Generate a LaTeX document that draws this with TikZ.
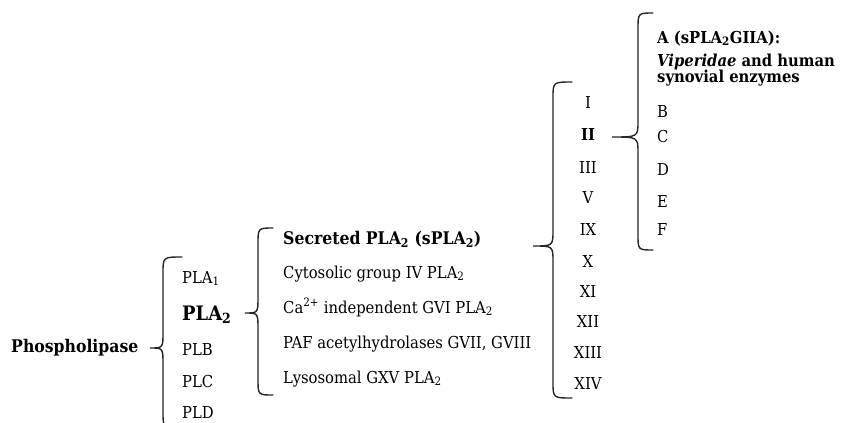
\documentclass[tikz,border=0pt]{standalone}
\usepackage{fontspec}
\setmainfont{DejaVu Serif Condensed}
\tikzset{
  lbl/.style={inner sep=0pt, anchor=base west, font=\fontsize{16.5}{19}\selectfont},
  blbl/.style={inner sep=0pt, anchor=base west, font=\fontsize{16.5}{19}\selectfont\bfseries},
  num/.style={inner sep=0pt, anchor=base, font=\fontsize{16.5}{19}\selectfont},
  bnum/.style={inner sep=0pt, anchor=base, font=\fontsize{16.5}{19}\selectfont\bfseries},
  brc/.style={line width=1.4bp, line cap=round, draw=black!85},
}
% xe xs xt yt ym yb
\newcommand{\drawbrace}[6]{%
  \draw[brc] (#1,#4) .. controls (#2,#4) .. (#2,#4+16) -- (#2,#5-16)
    .. controls (#2,#5) .. (#3,#5) .. controls (#2,#5) .. (#2,#5+16)
    -- (#2,#6-16) .. controls (#2,#6) .. (#1,#6);}
\begin{document}
\begin{tikzpicture}[x=1bp,y=-1bp]
\useasboundingbox (0,0) rectangle (848,422);
\clip (0,0) rectangle (848,422);
\fill[white] (0,0) rectangle (848,422);
% column 0
\node[inner sep=0pt, anchor=base west, font=\fontsize{17.5}{20}\selectfont\bfseries] (phos) at (11,352) {Phospholipase};
% brace 1
\drawbrace{182}{163}{150}{257}{348}{428}
\node[lbl] (pla1) at (182,283) {PLA\textsubscript{1}};
\node[inner sep=0pt, anchor=base west, font=\fontsize{20}{23}\selectfont\bfseries] (pla2) at (182,320) {PLA\textsubscript{2}};
\node[lbl] (plb) at (182,355) {PLB};
\node[lbl] (plc) at (182,387) {PLC};
\node[lbl] (pld) at (182,418) {PLD};
% brace 2
\drawbrace{273}{258}{245}{228}{313}{395}
\node[inner sep=0pt, anchor=base west, font=\fontsize{17.5}{20}\selectfont\bfseries] (spla) at (283,244) {Secreted PLA\textsubscript{2} (sPLA\textsubscript{2})};
\node[lbl] (cyto) at (283,278) {Cytosolic group IV PLA\textsubscript{2}};
\node[lbl] (ca) at (283,313) {Ca\textsuperscript{2+} independent GVI PLA\textsubscript{2}};
\node[lbl] (paf) at (283,348) {PAF acetylhydrolases GVII, GVIII};
\node[lbl] (lyso) at (283,383) {Lysosomal GXV PLA\textsubscript{2}};
% brace 3
\drawbrace{572}{553}{533}{82}{246}{398}
\node[num] (g1) at (588,108) {I};
\node[bnum] (g2) at (588,140) {II};
\node[num] (g3) at (588,173) {III};
\node[num] (g5) at (588,203) {V};
\node[num] (g9) at (588,235) {IX};
\node[num] (g10) at (588,267) {X};
\node[num] (g11) at (588,297) {XI};
\node[num] (g12) at (588,327) {XII};
\node[num] (g13) at (588,358) {XIII};
\node[num] (g14) at (588,389) {XIV};
% brace 4
\drawbrace{653}{638}{612}{13}{137}{250}
\node[blbl] (sa) at (657,43) {A (sPLA\textsubscript{2}GIIA):};
\node[blbl] (vip) at (657,66) {\textit{Viperidae} and human};
\node[blbl] (syn) at (657,82) {synovial enzymes};
\node[lbl] (sb) at (657,117) {B};
\node[lbl] (sc) at (657,142) {C};
\node[lbl] (sd) at (657,175) {D};
\node[lbl] (se) at (657,207) {E};
\node[lbl] (sf) at (657,235) {F};
\end{tikzpicture}
\end{document}
